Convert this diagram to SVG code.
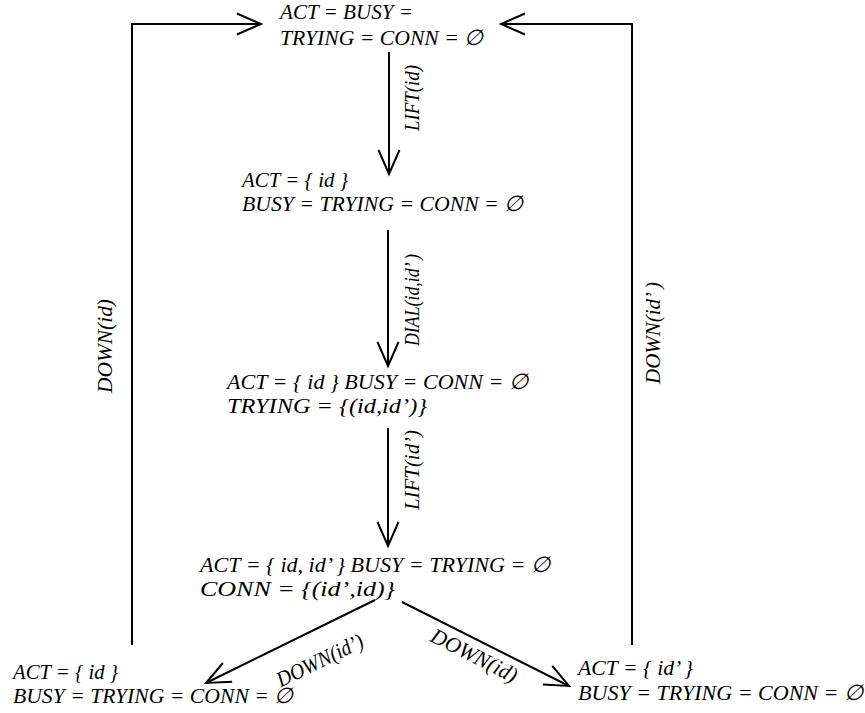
<svg xmlns="http://www.w3.org/2000/svg" width="865" height="713" viewBox="0 0 865 713">
<style>
text{font-family:"Liberation Serif","Times New Roman",serif;font-style:italic;font-size:22px;fill:#000}
.c{stroke:#000;stroke-width:2;fill:none}
</style>
<defs>
<marker id="ah" markerUnits="userSpaceOnUse" markerWidth="40" markerHeight="40" refX="0" refY="0" viewBox="-30 -20 40 40" orient="auto" overflow="visible">
<path d="M-24,-10.5 L0,0 L-24,10.5" fill="none" stroke="#000" stroke-width="2"/>
</marker>
</defs>
<rect width="865" height="713" fill="#fff"/>
<g id="connectors">
<path class="c" d="M132,645 V24 H261" marker-end="url(#ah)"/>
<path class="c" d="M632,645 V24 H501" marker-end="url(#ah)"/>
<path class="c" d="M389,52 V174" marker-end="url(#ah)"/>
<path class="c" d="M388,230 V366" marker-end="url(#ah)"/>
<path class="c" d="M388,428 V546" marker-end="url(#ah)"/>
<path class="c" d="M375,600 L206,683" marker-end="url(#ah)"/>
<path class="c" d="M402,602 L569,686" marker-end="url(#ah)"/>
<text x="419" y="98" text-anchor="middle" transform="rotate(-90 419 98)" textLength="66" lengthAdjust="spacingAndGlyphs">LIFT(id)</text>
<text x="419" y="300" text-anchor="middle" transform="rotate(-90 419 300)" textLength="92" lengthAdjust="spacingAndGlyphs">DIAL(id,id’ )</text>
<text x="419" y="470" text-anchor="middle" transform="rotate(-90 419 470)" textLength="80" lengthAdjust="spacingAndGlyphs">LIFT(id’)</text>
<text x="112" y="346" text-anchor="middle" transform="rotate(-90 112 346)" textLength="94" lengthAdjust="spacingAndGlyphs">DOWN(id)</text>
<text x="660" y="333" text-anchor="middle" transform="rotate(-90 660 333)" textLength="102" lengthAdjust="spacingAndGlyphs">DOWN(id’ )</text>
<text x="323" y="667" text-anchor="middle" transform="rotate(-26 323 667)" textLength="94" lengthAdjust="spacingAndGlyphs">DOWN(id’)</text>
<text x="471" y="662" text-anchor="middle" transform="rotate(27 471 662)" textLength="94" lengthAdjust="spacingAndGlyphs">DOWN(id)</text>
</g>
<g id="s0">
<text x="280" y="19" textLength="133" lengthAdjust="spacingAndGlyphs">ACT = BUSY =</text>
<text x="280" y="45" textLength="203" lengthAdjust="spacingAndGlyphs">TRYING = CONN =  ∅</text>
</g>
<g id="s1">
<text x="242" y="187" textLength="106" lengthAdjust="spacingAndGlyphs">ACT = { id }</text>
<text x="242" y="211" textLength="281" lengthAdjust="spacingAndGlyphs">BUSY = TRYING = CONN =  ∅</text>
</g>
<g id="s2">
<text x="227" y="389" textLength="301" lengthAdjust="spacingAndGlyphs">ACT = { id }  BUSY = CONN =  ∅</text>
<text x="227" y="413" textLength="200" lengthAdjust="spacingAndGlyphs">TRYING = {(id,id’)}</text>
</g>
<g id="s3">
<text x="200" y="572" textLength="350" lengthAdjust="spacingAndGlyphs">ACT = { id, id’ }  BUSY = TRYING =  ∅</text>
<text x="200" y="596" textLength="195" lengthAdjust="spacingAndGlyphs">CONN = {(id’,id)}</text>
</g>
<g id="s4">
<text x="13" y="679" textLength="105" lengthAdjust="spacingAndGlyphs">ACT = { id }</text>
<text x="13" y="703" textLength="280" lengthAdjust="spacingAndGlyphs">BUSY = TRYING = CONN =  ∅</text>
</g>
<g id="s5">
<text x="578" y="675" textLength="115" lengthAdjust="spacingAndGlyphs">ACT = { id’ }</text>
<text x="578" y="700" textLength="285" lengthAdjust="spacingAndGlyphs">BUSY = TRYING = CONN =  ∅</text>
</g>
</svg>
